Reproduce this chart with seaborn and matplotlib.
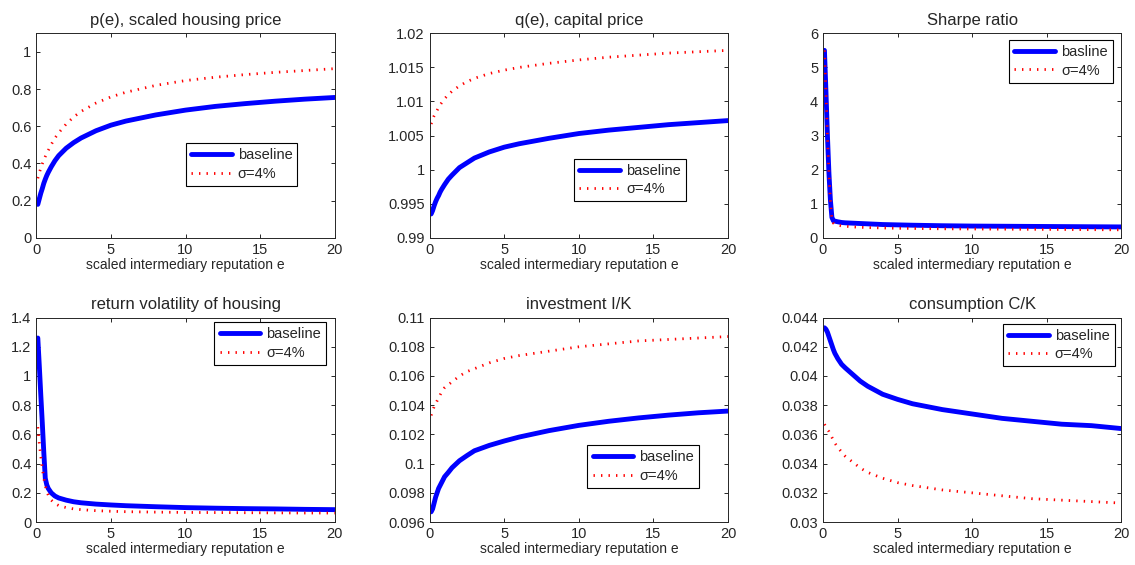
import numpy as np
import pandas as pd
import matplotlib
matplotlib.use("Agg")
import matplotlib.pyplot as plt
import seaborn as sns
from matplotlib.ticker import FormatStrFormatter

# scaled intermediary reputation e (shared grid)
e = [0.1, 0.2, 0.3, 0.4, 0.5, 0.6, 0.7, 0.8, 1, 1.25, 1.5, 2, 2.5, 3, 4, 5, 6, 8,
     10, 12, 14, 16, 18, 20]

# p(e), scaled housing price
p_base = [0.18, 0.21, 0.24, 0.265, 0.293, 0.315, 0.335, 0.352, 0.382, 0.415, 0.442, 0.482,
          0.512, 0.537, 0.576, 0.606, 0.628, 0.661, 0.687, 0.707, 0.722, 0.735, 0.746, 0.755]
p_sig = [0.32, 0.35, 0.375, 0.398, 0.418, 0.437, 0.454, 0.47, 0.502, 0.537, 0.565, 0.612,
         0.65, 0.68, 0.725, 0.758, 0.783, 0.82, 0.846, 0.864, 0.878, 0.89, 0.90, 0.91]

# q(e), capital price
q_base = [0.9935, 0.9940, 0.9947, 0.9953, 0.9958, 0.9962, 0.9967, 0.9971, 0.9978, 0.9986,
          0.9992, 1.0003, 1.0010, 1.0017, 1.0026, 1.0033, 1.0038, 1.0046, 1.0053, 1.0058,
          1.0062, 1.0066, 1.0069, 1.0072]
q_sig = [1.0067, 1.0073, 1.0079, 1.0083, 1.0087, 1.0091, 1.0095, 1.0098, 1.0104, 1.0110,
         1.0115, 1.0123, 1.0129, 1.0134, 1.0141, 1.0146, 1.0150, 1.0156, 1.0161, 1.0165,
         1.0168, 1.0171, 1.0173, 1.0175]

# Sharpe ratio
sr_base = [5.5, 4.3, 3.0, 1.9, 1.1, 0.6, 0.5, 0.49, 0.47, 0.45, 0.44, 0.43, 0.42, 0.41,
           0.39, 0.38, 0.37, 0.355, 0.345, 0.34, 0.335, 0.33, 0.325, 0.32]
sr_sig = [5.5, 4.3, 3.0, 1.9, 1.05, 0.55, 0.43, 0.40, 0.37, 0.35, 0.34, 0.32, 0.31, 0.30,
          0.29, 0.28, 0.275, 0.265, 0.26, 0.255, 0.25, 0.245, 0.24, 0.235]

# return volatility of housing
vol_base = [1.26, 1.07, 0.87, 0.68, 0.48, 0.30, 0.255, 0.23, 0.20, 0.178, 0.165, 0.15,
            0.139, 0.132, 0.123, 0.117, 0.112, 0.105, 0.099, 0.095, 0.092, 0.09, 0.087,
            0.085]
vol_sig = [0.65, 0.54, 0.45, 0.37, 0.30, 0.25, 0.21, 0.185, 0.15, 0.127, 0.113, 0.099,
           0.09, 0.085, 0.078, 0.074, 0.071, 0.068, 0.066, 0.065, 0.064, 0.063, 0.062,
           0.062]

# investment I/K
ik_base = [0.0967, 0.0969, 0.0973, 0.0977, 0.0980, 0.0983, 0.0985, 0.0987, 0.0991,
           0.0994, 0.09972, 0.1002, 0.10055, 0.10088, 0.10125, 0.10155, 0.10182, 0.10226,
           0.10262, 0.1029, 0.10313, 0.10332, 0.10348, 0.1036]
ik_sig = [0.1033, 0.1036, 0.1039, 0.1041, 0.1043, 0.1045, 0.1047, 0.1049, 0.1052,
          0.1054, 0.1056, 0.1060, 0.1063, 0.1065, 0.1069, 0.1072, 0.1074, 0.1077,
          0.1080, 0.1082, 0.1084, 0.1085, 0.1086, 0.1087]

# consumption C/K
ck_base = [0.0433, 0.0432, 0.0430, 0.0427, 0.0424, 0.0421, 0.0418, 0.04155, 0.04118,
           0.0408, 0.04055, 0.0401, 0.03965, 0.0393, 0.03875, 0.0384, 0.0381, 0.0377,
           0.0374, 0.0371, 0.0369, 0.0367, 0.0366, 0.0364]
ck_sig = [0.0367, 0.0365, 0.0363, 0.0362, 0.0360, 0.0358, 0.0356, 0.0354, 0.0351,
          0.0348, 0.0345, 0.0341, 0.0337, 0.0334, 0.0330, 0.0327, 0.0325, 0.0322,
          0.0320, 0.0318, 0.0316, 0.0315, 0.0314, 0.0313]

titles = ["p(e), scaled housing price", "q(e), capital price", "Sharpe ratio",
          "return volatility of housing", "investment I/K", "consumption C/K"]
base_labels = ["baseline", "baseline", "basline", "baseline", "baseline", "baseline"]
sig_label = "σ=4%"
series = [(p_base, p_sig), (q_base, q_sig), (sr_base, sr_sig),
          (vol_base, vol_sig), (ik_base, ik_sig), (ck_base, ck_sig)]
ylims = [(0, 1.1), (0.99, 1.02), (0, 6), (0, 1.4), (0.096, 0.11), (0.03, 0.044)]
yticks = [[0, 0.2, 0.4, 0.6, 0.8, 1],
          [0.99, 0.995, 1, 1.005, 1.01, 1.015, 1.02],
          [0, 1, 2, 3, 4, 5, 6],
          [0, 0.2, 0.4, 0.6, 0.8, 1, 1.2, 1.4],
          [0.096, 0.098, 0.1, 0.102, 0.104, 0.106, 0.108, 0.11],
          [0.03, 0.032, 0.034, 0.036, 0.038, 0.04, 0.042, 0.044]]
legend_pos = [(0.688, 0.358), (0.672, 0.283), (0.798, 0.863),
              (0.784, 0.873), (0.716, 0.272), (0.790, 0.865)]

sns.set_style("ticks")
plt.rcParams["font.family"] = ["Liberation Sans", "DejaVu Sans"]
plt.rcParams["xtick.direction"] = "in"
plt.rcParams["ytick.direction"] = "in"
plt.rcParams["xtick.top"] = True
plt.rcParams["ytick.right"] = True

fig, axes = plt.subplots(2, 3, figsize=(11.35, 5.65), dpi=100)
fig.subplots_adjust(left=0.032, right=0.988, top=0.941, bottom=0.076,
                    wspace=0.318, hspace=0.39)

for i, ax in enumerate(axes.flat):
    yb, ys = series[i]
    df = pd.DataFrame({"e": e, "base": yb, "sig": ys})
    sns.lineplot(data=df, x="e", y="base", ax=ax, color="blue", linewidth=3.5,
                 label=base_labels[i])
    sns.lineplot(data=df, x="e", y="sig", ax=ax, color="red",
                 linestyle=(0, (0.5, 2.2)), linewidth=2, label=sig_label)
    ax.set_xlim(0, 20)
    ax.set_ylim(*ylims[i])
    ax.set_xticks([0, 5, 10, 15, 20])
    ax.set_yticks(yticks[i])
    ax.yaxis.set_major_formatter(FormatStrFormatter("%g"))
    ax.tick_params(labelsize=10.5, length=3, width=0.7)
    ax.set_title(titles[i], fontsize=12, pad=6)
    ax.set_xlabel("scaled intermediary reputation e", fontsize=10, labelpad=1)
    ax.set_ylabel("")
    for s in ax.spines.values():
        s.set_linewidth(0.7)
    leg = ax.legend(loc="center", bbox_to_anchor=legend_pos[i], fontsize=10.5,
                    frameon=True, fancybox=False, framealpha=1, edgecolor="black",
                    handlelength=2.8, handletextpad=0.4, borderpad=0.35,
                    labelspacing=0.3)
    leg.get_frame().set_linewidth(0.8)

fig.savefig("out.png", dpi=100)
